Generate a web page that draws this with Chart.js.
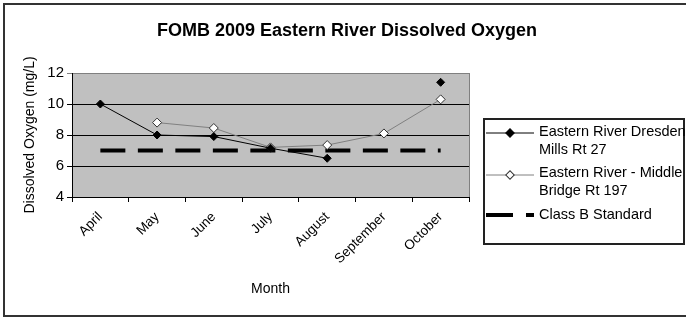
<!DOCTYPE html>
<html>
<head>
<meta charset="utf-8">
<script src="https://cdn.jsdelivr.net/npm/chart.js@4"></script>
<style>
  html, body { margin: 0; padding: 0; background: #fff; }
  #wrap { width: 686px; height: 318px; position: relative; }
</style>
</head>
<body>
<div id="wrap"><canvas id="chartDO"></canvas></div>
<script>
// ---- data ----
const CHART_TITLE = 'FOMB 2009 Eastern River Dissolved Oxygen';
const MONTHS      = ['April', 'May', 'June', 'July', 'August', 'September', 'October'];
const DRESDEN     = [10.0, 8.0, 7.9, 7.15, 6.5, null, 11.4];
const MIDDLE_BR   = [null, 8.8, 8.45, 7.2, 7.35, 8.1, 10.3];
const CLASS_B     = [7, 7, 7, 7, 7, 7, 7];
const Y_TICKS     = [4, 6, 8, 10, 12];

const FONT = '"Liberation Sans", Arial, sans-serif';

// plot background, outer frame, title, boxed legend
const framePlugin = {
  id: 'frame',
  beforeDraw(chart) {
    const { ctx, chartArea: a } = chart;
    ctx.save();
    ctx.fillStyle = '#c0c0c0';
    ctx.fillRect(a.left, a.top, a.right - a.left, a.bottom - a.top);
    ctx.restore();
  },
  afterDraw(chart) {
    const { ctx, chartArea: a } = chart;
    ctx.save();
    // right edge of plot area
    ctx.strokeStyle = '#808080';
    ctx.lineWidth = 1;
    ctx.beginPath();
    ctx.moveTo(a.right + 0.5, a.top);
    ctx.lineTo(a.right + 0.5, a.bottom);
    ctx.stroke();

    // outer frame
    ctx.strokeStyle = '#333';
    ctx.lineWidth = 2;
    ctx.strokeRect(4, 4, 720, 312);

    // title
    ctx.fillStyle = '#000';
    ctx.font = 'bold 18px ' + FONT;
    ctx.textAlign = 'center';
    ctx.textBaseline = 'middle';
    ctx.fillText(CHART_TITLE, 347, 31);

    // legend
    ctx.strokeStyle = '#222';
    ctx.lineWidth = 2;
    ctx.strokeRect(484, 119, 200, 125);

    const ds = chart.data.datasets;
    const entries = [
      { d: ds[0], y: 133, lines: ['Eastern River Dresden', 'Mills Rt 27'], ty: 132 },
      { d: ds[1], y: 175, lines: ['Eastern River - Middle', 'Bridge Rt 197'], ty: 173 },
      { d: ds[2], y: 215, lines: ['Class B Standard'], ty: 215 }
    ];
    entries.forEach(e => {
      ctx.save();
      ctx.strokeStyle = e.d.borderColor;
      ctx.lineWidth = e.d.borderWidth;
      if (e.d.borderDash) ctx.setLineDash(e.d.borderDash.length ? [27, 13] : []);
      ctx.beginPath();
      ctx.moveTo(486, e.y);
      ctx.lineTo(534, e.y);
      ctx.stroke();
      ctx.restore();
      if (e.d.pointRadius > 0) {
        ctx.save();
        ctx.translate(510, e.y);
        ctx.rotate(Math.PI / 4);
        ctx.fillStyle = e.d.pointBackgroundColor;
        ctx.strokeStyle = e.d.pointBorderColor;
        ctx.lineWidth = 1;
        ctx.fillRect(-3, -3, 6, 6);
        ctx.strokeRect(-3, -3, 6, 6);
        ctx.restore();
      }
      ctx.fillStyle = '#000';
      ctx.font = '14.5px ' + FONT;
      ctx.textAlign = 'left';
      ctx.textBaseline = 'middle';
      e.lines.forEach((t, i) => ctx.fillText(t, 539, e.ty + i * 18));
    });
    ctx.restore();
  }
};

const ctx = document.getElementById('chartDO').getContext('2d');
new Chart(ctx, {
  type: 'line',
  data: {
    labels: MONTHS,
    datasets: [
      {
        label: 'Eastern River Dresden Mills Rt 27',
        data: DRESDEN,
        borderColor: '#000', borderWidth: 1,
        pointStyle: 'rectRot', pointRadius: 4,
        pointBackgroundColor: '#000', pointBorderColor: '#000',
        spanGaps: false, tension: 0
      },
      {
        label: 'Eastern River - Middle Bridge Rt 197',
        data: MIDDLE_BR,
        borderColor: '#808080', borderWidth: 1,
        pointStyle: 'rectRot', pointRadius: 4.5,
        pointBackgroundColor: '#fff', pointBorderColor: '#333', pointBorderWidth: 1,
        tension: 0
      },
      {
        label: 'Class B Standard',
        data: CLASS_B,
        borderColor: '#000', borderWidth: 4,
        borderDash: [25, 12.5], borderCapStyle: 'butt',
        pointRadius: 0, tension: 0
      }
    ]
  },
  options: {
    responsive: true, maintainAspectRatio: false, animation: false,
    layout: { padding: { left: 4, right: 217, top: 73, bottom: 4 } },
    plugins: { legend: { display: false }, title: { display: false }, tooltip: { enabled: false } },
    scales: {
      x: {
        offset: true,
        grid: { offset: true, drawOnChartArea: false, drawTicks: true, tickLength: 5, color: '#000' },
        border: { color: '#000', width: 1 },
        ticks: { color: '#000', font: { family: FONT, size: 13.5 }, minRotation: 45, maxRotation: 45, autoSkip: false, padding: 7 },
        title: { display: true, text: 'Month', color: '#000', font: { family: FONT, size: 14 }, padding: { top: 4, bottom: 16 } },
        afterFit: s => { s.height = 117; }
      },
      y: {
        min: 4, max: 12,
        afterBuildTicks: s => { s.ticks = Y_TICKS.map(v => ({ value: v })); },
        grid: {
          color: c => (c.tick && c.tick.value === 12 ? '#808080' : '#000'),
          tickLength: 5, drawTicks: true
        },
        border: { color: '#000', width: 1 },
        ticks: { color: '#000', font: { family: FONT, size: 15 }, padding: 3 },
        title: { display: true, text: 'Dissolved Oxygen (mg/L)', color: '#000', font: { family: FONT, size: 14 }, padding: { top: 18, bottom: 0 } },
        afterFit: s => { s.width = 68; }
      }
    }
  },
  plugins: [framePlugin]
});
</script>
</body>
</html>
